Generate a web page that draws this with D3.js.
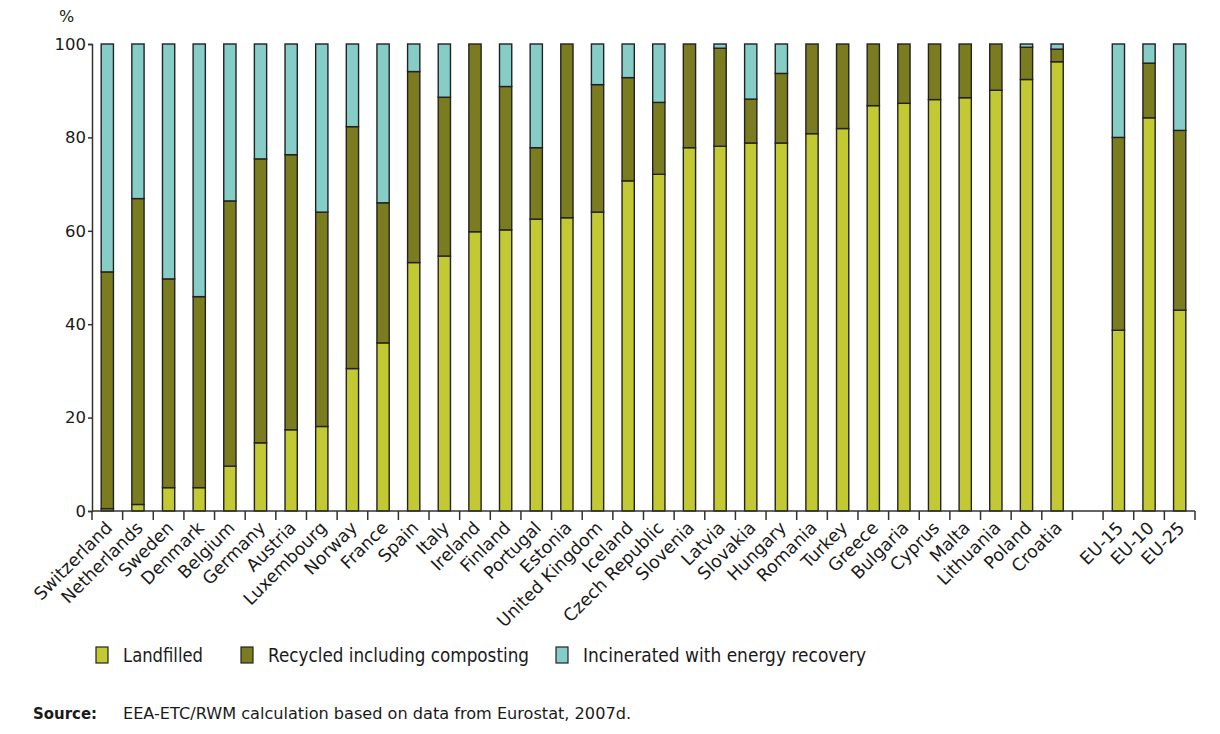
<!DOCTYPE html>
<html>
<head>
<meta charset="utf-8">
<script src="https://cdn.jsdelivr.net/npm/d3@7"></script>
<style>
  body { margin: 0; background: #fff; }
  svg { font-family: "DejaVu Sans", Verdana, sans-serif; }
</style>
</head>
<body>
<svg id="chart" width="1220" height="734" viewBox="0 0 1220 734"></svg>
<script>
// categories (a blank slot separates the countries from the EU aggregates)
const countries = ["Switzerland","Netherlands","Sweden","Denmark","Belgium","Germany","Austria",
    "Luxembourg","Norway","France","Spain","Italy","Ireland","Finland","Portugal","Estonia",
    "United Kingdom","Iceland","Czech Republic","Slovenia","Latvia","Slovakia","Hungary","Romania",
    "Turkey","Greece","Bulgaria","Cyprus","Malta","Lithuania","Poland","Croatia"]
const aggregates = ["EU-15","EU-10","EU-25"]

// shares in %, same order as countries followed by aggregates
const landfilled = [0.5,1.4,5.0,5.0,9.6,14.6,17.4,18.1,30.5,36.0,53.2,54.6,59.8,60.2,62.5,62.8,
    64.0,70.7,72.1,77.8,78.1,78.8,78.8,80.8,81.9,86.8,87.3,88.1,88.5,90.1,92.4,96.2,
    38.7,84.2,43.0]
const recycled = [50.7,65.5,44.7,40.9,56.8,60.8,58.9,45.9,51.8,30.0,40.9,34.0,40.2,30.7,15.3,37.2,
    27.3,22.1,15.4,22.2,21.0,9.4,14.9,19.2,18.1,13.2,12.7,11.9,11.5,9.9,6.9,2.7,
    41.3,11.7,38.5]
const incinerated = [48.8,33.1,50.3,54.1,33.6,24.6,23.7,36.0,17.7,34.0,5.9,11.4,0,9.1,22.2,0,
    8.7,7.2,12.5,0,0.9,11.8,6.3,0,0,0,0,0,0,0,0.7,1.1,
    20.0,4.1,18.5]

const yTicks = [0,20,40,60,80,100]
const seriesNames = ["Landfilled","Recycled including composting","Incinerated with energy recovery"]
const seriesKeys = ["landfilled","recycled","incinerated"]
const colors = ["#c2c932","#7b7c20","#86cdc8"]

let svg = d3.select("#chart")

let names = countries.concat(aggregates)
let rows = names.map(function(n,i){
    return {name:n, landfilled:landfilled[i], recycled:recycled[i], incinerated:incinerated[i]}
})
let domain = countries.concat([" "]).concat(aggregates)

let x = d3.scaleBand()
    .domain(domain)
    .range([92,1195])
    .paddingInner(0.6)
    .paddingOuter(0.3)

let y = d3.scaleLinear()
    .domain([0,100])
    .range([511,44])

let stacked = d3.stack().keys(seriesKeys)(rows)

let main_group = svg.append("g")

// bars
main_group.selectAll(".series")
    .data(stacked)
    .enter()
    .append("g")
    .attr("fill",function(d,i){return colors[i]})
    .selectAll("rect")
    .data(function(d){return d.filter(function(p){return p[1]-p[0] > 0})})
    .enter()
    .append("rect")
    .attr("x",function(d){return x(d.data.name)})
    .attr("width",x.bandwidth())
    .attr("y",function(d){return y(d[1])})
    .attr("height",function(d){return y(d[0])-y(d[1])})
    .attr("stroke","#222")
    .attr("stroke-width",1.4)

// y axis
let yAxis = svg.append("g")
    .attr("transform","translate(92,0)")
    .call(d3.axisLeft(y).tickValues(yTicks).tickSize(4).tickPadding(2))
yAxis.select(".domain").attr("stroke","#333").attr("stroke-width",1.5)
yAxis.selectAll(".tick line").attr("stroke","#333").attr("stroke-width",1.5)
yAxis.selectAll(".tick text")
    .attr("font-family","DejaVu Sans, Verdana, sans-serif")
    .attr("font-size",16.5)
    .attr("fill","#1a1a1a")

svg.append("text")
    .attr("x",59)
    .attr("y",22)
    .attr("font-size",16)
    .attr("fill","#1a1a1a")
    .text("%")

// x axis: line with ticks at slot boundaries
let xAxis = svg.append("g")
xAxis.append("line")
    .attr("x1",92).attr("x2",1195)
    .attr("y1",511).attr("y2",511)
    .attr("stroke","#333").attr("stroke-width",1.5)
xAxis.selectAll(".bound")
    .data(d3.range(domain.length+1))
    .enter()
    .append("line")
    .attr("x1",function(i){return 92 + i*x.step()})
    .attr("x2",function(i){return 92 + i*x.step()})
    .attr("y1",511).attr("y2",520)
    .attr("stroke","#333").attr("stroke-width",1.5)

xAxis.selectAll(".lab")
    .data(names)
    .enter()
    .append("text")
    .attr("text-anchor","end")
    .attr("font-size",17.5)
    .attr("fill","#1a1a1a")
    .attr("transform",function(d){
        return `translate(${x(d)+x.bandwidth()/2+6},${529}) rotate(-45)`
    })
    .text(function(d){return d})

// legend
let legendX = [96,241,556]
let legendW = [80,261,283]
let legend = svg.append("g")
    .selectAll("g")
    .data(seriesNames)
    .enter()
    .append("g")
    .attr("transform",function(d,i){return `translate(${legendX[i]},647)`})
legend.append("rect")
    .attr("width",12).attr("height",16)
    .attr("fill",function(d,i){return colors[i]})
    .attr("stroke","#222").attr("stroke-width",1.2)
legend.append("text")
    .attr("x",27).attr("y",15)
    .attr("font-size",19)
    .attr("fill","#1a1a1a")
    .attr("textLength",function(d,i){return legendW[i]})
    .attr("lengthAdjust","spacingAndGlyphs")
    .text(function(d){return d})

// source note
svg.append("text")
    .attr("x",33).attr("y",719)
    .attr("font-size",15.5)
    .attr("font-weight","bold")
    .attr("fill","#1a1a1a")
    .attr("textLength",64)
    .attr("lengthAdjust","spacingAndGlyphs")
    .text("Source:")
svg.append("text")
    .attr("x",123).attr("y",719)
    .attr("font-size",16)
    .attr("fill","#1a1a1a")
    .attr("textLength",508)
    .attr("lengthAdjust","spacingAndGlyphs")
    .text("EEA-ETC/RWM calculation based on data from Eurostat, 2007d.")
</script>
</body>
</html>
